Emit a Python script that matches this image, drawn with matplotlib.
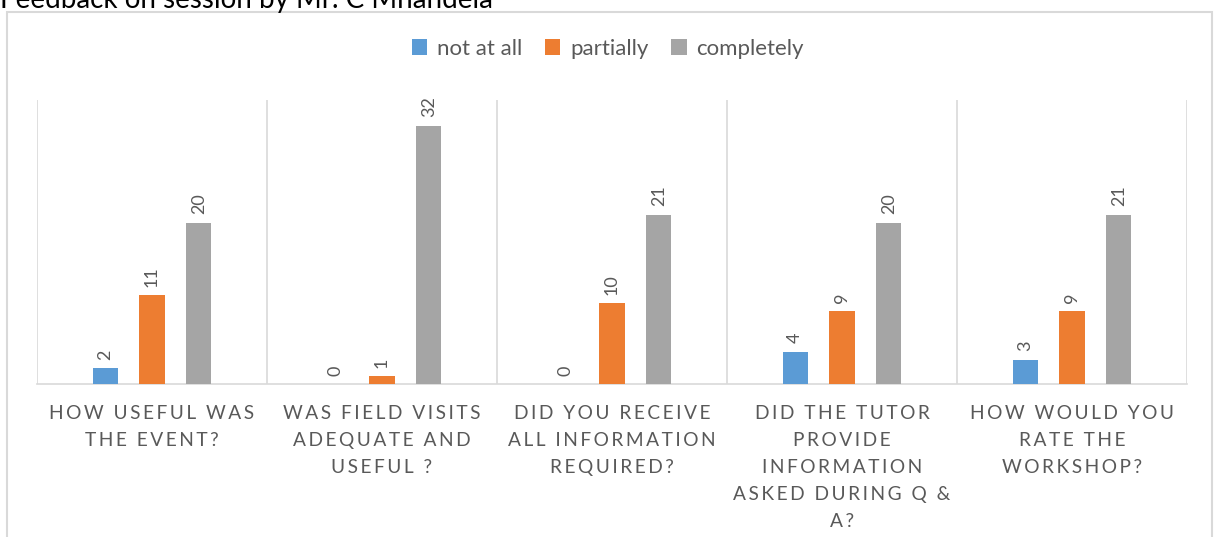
import numpy as np
import matplotlib
matplotlib.use("Agg")
import matplotlib.pyplot as plt
from matplotlib.patches import Rectangle

plt.rcParams['font.family'] = ['Lato', 'DejaVu Sans']

# data
questions = [
    "HOW USEFUL WAS\nTHE EVENT?",
    "WAS FIELD VISITS\nADEQUATE AND\nUSEFUL ?",
    "DID YOU RECEIVE\nALL INFORMATION\nREQUIRED?",
    "DID THE TUTOR\nPROVIDE\nINFORMATION\nASKED DURING Q &\nA?",
    "HOW WOULD YOU\nRATE THE\nWORKSHOP?",
]
series_names = ["not at all", "partially", "completely"]
not_at_all = [2, 0, 0, 4, 3]
partially = [11, 1, 10, 9, 9]
completely = [20, 32, 21, 20, 21]

colors = ['#5B9BD5', '#ED7D31', '#A5A5A5']
grid_col = '#D9D9D9'
text_col = '#595959'

W, H = 1216, 537
fig = plt.figure(figsize=(W / 100, H / 100), dpi=100)

# outer chart frame (bottom runs off the picture)
fig.patches.append(Rectangle((7 / W, -0.05), (1212 - 7) / W, 1.05 - 12 / H,
                             transform=fig.transFigure, fill=False,
                             edgecolor=grid_col, lw=1.5))

# page heading above the chart, cut at the top edge as in the source
fig.text(0.0, 1 - 8 / H, "Feedback on session by Mr. C Mnandela",
         fontsize=20, color='black', va='baseline', ha='left')

ax = fig.add_axes([37 / W, 1 - 384 / H, 1150 / W, 284 / H])

x = np.arange(len(questions))
offset = 0.204
width = 0.109
all_series = [not_at_all, partially, completely]
bars = []
for i, (vals, name) in enumerate(zip(all_series, series_names)):
    b = ax.bar(x + (i - 1) * offset, vals, width, color=colors[i], label=name, zorder=3)
    bars.append(b)
    for rect, v in zip(b, vals):
        ax.annotate(str(v), (rect.get_x() + rect.get_width() / 2, v),
                    xytext=(0, 6), textcoords='offset points',
                    rotation=90, ha='center', va='bottom',
                    fontsize=13, color=text_col)

ax.set_xlim(-0.5, len(questions) - 0.5)
ax.set_ylim(0, 35.2)
for b in np.arange(-0.5, len(questions), 1.0):
    ax.axvline(b, color=grid_col, lw=1.2, zorder=1)

for s in ['top', 'left', 'right']:
    ax.spines[s].set_visible(False)
ax.spines['bottom'].set_color(grid_col)
ax.spines['bottom'].set_linewidth(1.2)
ax.set_yticks([])


def spaced(s):
    return "\n".join("\u200a\u200a".join(line) for line in s.split("\n"))


ax.set_xticks(x)
ax.set_xticklabels([spaced(q) for q in questions], fontsize=13.8, color=text_col,
                   linespacing=1.71)
ax.tick_params(axis='x', length=0, pad=15)

fig.legend(handles=bars, labels=series_names, loc='center', ncol=3,
           bbox_to_anchor=(0.5, 1 - 49 / H), frameon=False, fontsize=16,
           handlelength=0.7, handleheight=0.7, handletextpad=0.45,
           columnspacing=1.0, labelcolor=text_col)

fig.savefig("out.png", dpi=100, facecolor='white')
